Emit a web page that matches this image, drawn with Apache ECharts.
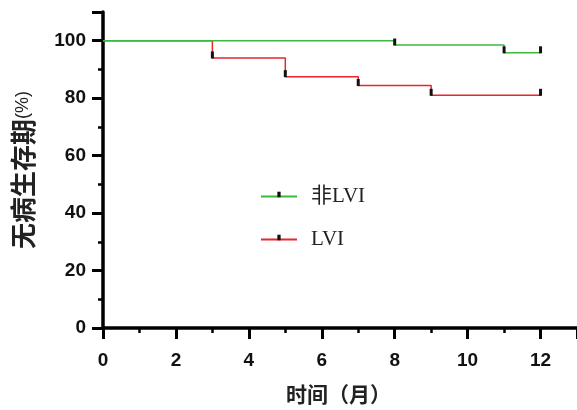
<!DOCTYPE html>
<html><head><meta charset="utf-8">
<script src="https://cdn.jsdelivr.net/npm/echarts@6/dist/echarts.min.js"></script>
<style>html,body{margin:0;padding:0;background:#fff}#c{width:577px;height:410px}</style>
</head><body><div id="c"></div>
<script>
var seriesNames = ['非LVI', 'LVI'];
var nonLviTimes = [0, 8, 11, 12];
var nonLviSurv = [100, 98.5, 95.8, 95.8];
var lviTimes = [0, 3, 5, 7, 9, 12];
var lviSurv = [100, 94, 87.5, 84.4, 81, 81];
var xTicks = [0, 2, 4, 6, 8, 10, 12];
var yTicks = [0, 20, 40, 60, 80, 100];

function build(times, vals) {
  return times.map(function (t, i) {
    var d = { value: [t, vals[i]], symbol: 'rect', symbolSize: [3, 7], symbolOffset: [0, -3] };
    if (i === 0) d.symbol = 'none';
    return d;
  });
}
// legend icon: thin tick above the line (padded bounding box)
var legendTick = 'path://M0,0 M3.3,0 L6.7,0 L6.7,5.8 L3.3,5.8 Z M10,10';
var chart = echarts.init(document.getElementById('c'));
var bold = { fontFamily: 'Liberation Sans, Arial, sans-serif', fontWeight: 'bold', fontSize: 19, color: '#111' };
chart.setOption({
  animation: false,
  backgroundColor: '#fff',
  grid: { left: 103, top: 12, width: 476, bottom: 82 },
  legend: {
    orient: 'vertical', left: 255, top: 181, itemWidth: 36, itemHeight: 12, itemGap: 22,
    data: seriesNames,
    textStyle: { fontFamily: 'Liberation Serif, Times New Roman, Noto Sans CJK SC, serif', fontSize: 21, color: '#222', padding: [0, 0, 0, 9] }
  },
  xAxis: {
    type: 'value', min: 0, max: 13, interval: 2,
    name: '时间（月）', nameLocation: 'middle', nameGap: 56,
    nameTextStyle: { fontFamily: 'Noto Sans CJK SC, sans-serif', fontWeight: 'bold', fontSize: 21, color: '#222', padding: [0, 3, 0, 0] },
    axisLine: { show: true, lineStyle: { color: '#000', width: 3.5 } },
    axisTick: { show: true, length: 11, lineStyle: { color: '#000', width: 3 } },
    minorTick: { show: true, splitNumber: 2, length: 5, lineStyle: { color: '#000', width: 2.5 } },
    axisLabel: Object.assign({ margin: 23, showMaxLabel: false, formatter: function (v) { return xTicks.indexOf(v) >= 0 ? String(v) : ''; } }, bold),
    splitLine: { show: false }
  },
  yAxis: {
    type: 'value', min: 0, max: 110, interval: 20,
    name: '{a|无病生存期}{b|(%)}', nameLocation: 'middle', nameGap: 67,
    nameTextStyle: { rich: {
      a: { fontFamily: 'Noto Sans CJK SC, sans-serif', fontWeight: 'bold', fontSize: 26, color: '#222' },
      b: { fontFamily: 'Liberation Sans, sans-serif', fontSize: 18, color: '#222' } } },
    axisLine: { show: true, lineStyle: { color: '#000', width: 3.5 } },
    axisTick: { show: true, length: 11, lineStyle: { color: '#000', width: 3 } },
    minorTick: { show: true, splitNumber: 2, length: 5, lineStyle: { color: '#000', width: 2.5 } },
    axisLabel: Object.assign({ margin: 17, formatter: function (v) { return yTicks.indexOf(v) >= 0 ? String(v) : ''; } }, bold),
    splitLine: { show: false }
  },
  series: [
    { name: seriesNames[0], type: 'line', step: 'end', data: build(nonLviTimes, nonLviSurv),
      symbol: legendTick, showSymbol: true,
      itemStyle: { color: '#111' }, lineStyle: { color: '#3dba3d', width: 1.5 }, z: 3 },
    { name: seriesNames[1], type: 'line', step: 'end', data: build(lviTimes, lviSurv),
      symbol: legendTick, showSymbol: true,
      itemStyle: { color: '#111' }, lineStyle: { color: '#e8262e', width: 1.5 }, z: 2 }
  ]
});
</script></body></html>
